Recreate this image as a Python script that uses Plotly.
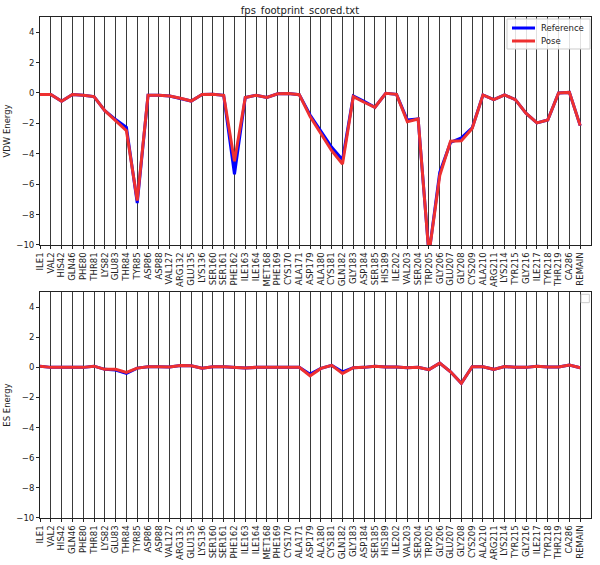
import plotly.graph_objects as go
from plotly.subplots import make_subplots

residues = ["ILE1", "VAL2", "HIS42", "GLN46", "PHE80", "THR81", "LYS82", "GLU83", "THR84", "TYR85",
            "ASP86", "ASP88", "VAL127", "ARG132", "GLU135", "LYS136", "SER160", "SER161", "PHE162", "ILE163",
            "ILE164", "MET168", "PHE169", "CYS170", "ALA171", "ASP179", "ALA180", "CYS181", "GLN182", "GLY183",
            "ASP184", "SER185", "HIS189", "ILE202", "VAL203", "SER204", "TRP205", "GLY206", "GLU207", "GLY208",
            "CYS209", "ALA210", "ARG211", "LYS214", "TYR215", "GLY216", "ILE217", "TYR218", "THR219", "CA286",
            "REMAIN"]

vdw_ref = [-0.1, -0.1, -0.55, -0.1, -0.15, -0.24, -1.16, -1.75, -2.26, -7.24,
           -0.15, -0.15, -0.2, -0.35, -0.53, -0.1, -0.08, -0.15, -5.35, -0.3,
           -0.15, -0.29, -0.05, -0.04, -0.11, -1.45, -2.55, -3.57, -4.39, -0.2,
           -0.55, -0.94, -0.02, -0.09, -1.78, -1.71, -10.6, -5.22, -3.25, -2.96,
           -2.3, -0.13, -0.44, -0.13, -0.44, -1.34, -1.97, -1.78, 0.0, 0.04,
           -2.15]
vdw_pose = [-0.1, -0.1, -0.55, -0.1, -0.15, -0.24, -1.16, -1.82, -2.48, -7.08,
            -0.15, -0.15, -0.2, -0.35, -0.53, -0.1, -0.08, -0.15, -4.5, -0.3,
            -0.15, -0.29, -0.05, -0.04, -0.11, -1.55, -2.7, -3.8, -4.67, -0.24,
            -0.61, -0.94, -0.02, -0.09, -1.89, -1.71, -10.6, -5.44, -3.18, -3.14,
            -2.33, -0.13, -0.44, -0.13, -0.44, -1.34, -1.97, -1.78, 0.0, 0.04,
            -2.15]

es_ref = [0.07, 0.0, 0.0, 0.0, 0.0, 0.08, -0.13, -0.18, -0.4, -0.05,
          0.04, 0.04, 0.02, 0.13, 0.1, -0.05, 0.04, 0.04, 0.0, -0.05,
          0.0, 0.0, 0.0, 0.0, 0.0, -0.45, -0.07, 0.13, -0.3, -0.02,
          0.0, 0.08, 0.02, 0.02, -0.02, 0.0, -0.15, 0.28, -0.29, -1.06,
          0.04, 0.04, -0.13, 0.06, 0.0, 0.0, 0.08, 0.02, 0.02, 0.15,
          -0.02]
es_pose = [0.07, 0.0, 0.0, 0.0, 0.0, 0.08, -0.13, -0.13, -0.33, -0.05,
           0.04, 0.04, 0.02, 0.13, 0.1, -0.05, 0.04, 0.04, 0.0, -0.05,
           0.0, 0.0, 0.0, 0.0, 0.0, -0.56, -0.07, 0.13, -0.4, -0.02,
           0.0, 0.08, 0.02, 0.02, -0.02, 0.0, -0.15, 0.28, -0.29, -1.06,
           0.04, 0.04, -0.13, 0.06, 0.0, 0.0, 0.08, 0.02, 0.02, 0.15,
           -0.02]

series_names = ["Reference", "Pose"]
title_text = "fps_footprint_scored.txt"
xpos = list(range(len(residues)))

BLUE = "#0000ff"
RED = "#ee3030"
FONT = "DejaVu Sans"
TXT = "#222222"

fig = make_subplots(rows=2, cols=1, vertical_spacing=0.094)

fig.add_trace(go.Scatter(x=xpos, y=vdw_ref, mode="lines", name=series_names[0],
                         line=dict(color=BLUE, width=3), showlegend=False), row=1, col=1)
fig.add_trace(go.Scatter(x=xpos, y=vdw_pose, mode="lines", name=series_names[1],
                         line=dict(color=RED, width=3), showlegend=False), row=1, col=1)
fig.add_trace(go.Scatter(x=xpos, y=es_ref, mode="lines", name=series_names[0],
                         line=dict(color=BLUE, width=3), showlegend=False), row=2, col=1)
fig.add_trace(go.Scatter(x=xpos, y=es_pose, mode="lines", name=series_names[1],
                         line=dict(color=RED, width=3), showlegend=False), row=2, col=1)

xaxis_style = dict(
    range=[0, 51], tickmode="array", tickvals=xpos, ticktext=residues,
    tickangle=-90, tickfont=dict(family=FONT, size=8.5, color=TXT),
    showgrid=True, gridcolor="#3a3a3a", gridwidth=1,
    showline=True, linecolor=TXT, linewidth=1, mirror=True,
    ticks="outside", ticklen=3, tickcolor=TXT, zeroline=False, automargin=False,
)
yaxis_style = dict(
    range=[-10, 5], tickmode="array", tickvals=[-10, -8, -6, -4, -2, 0, 2, 4],
    tickfont=dict(family=FONT, size=8.5, color=TXT),
    showgrid=False, showline=True, linecolor=TXT, linewidth=1, mirror=True,
    ticks="outside", ticklen=3, tickcolor=TXT, zeroline=False, automargin=False,
)

fig.update_xaxes(**xaxis_style)
fig.update_yaxes(**yaxis_style)
fig.update_yaxes(title=dict(text="VDW Energy", font=dict(family=FONT, size=8.5, color=TXT), standoff=4), row=1, col=1)
fig.update_yaxes(title=dict(text="ES Energy", font=dict(family=FONT, size=8.5, color=TXT), standoff=4), row=2, col=1)

fig.update_layout(
    width=600, height=565,
    margin=dict(l=40, r=9, t=17, b=47),
    paper_bgcolor="white", plot_bgcolor="white",
    title=dict(text=title_text, x=0.5, xanchor="center", y=0.982, yanchor="middle",
               font=dict(family=FONT, size=10, color=TXT)),
    showlegend=False,
)
fig.update_layout(yaxis=dict(domain=[0.545, 1.0]), yaxis2=dict(domain=[0.0, 0.451]))

# legend of the upper panel (drawn in axis-domain coordinates)
# top axes spans x 40..591 px (551 px), y 17..245 px (228 px)
def dx(px):
    return (px - 40) / 551.0

def dy(py):
    return (245 - py) / 228.0

fig.add_shape(type="rect", xref="x domain", yref="y domain",
              x0=dx(507), x1=dx(590), y0=dy(49), y1=dy(19),
              line=dict(color="#cccccc", width=1), fillcolor="rgba(255,255,255,0.85)")
for name, color, py in [(series_names[0], BLUE, 28), (series_names[1], RED, 41)]:
    fig.add_shape(type="line", xref="x domain", yref="y domain",
                  x0=dx(512), x1=dx(535), y0=dy(py), y1=dy(py),
                  line=dict(color=color, width=3))
    fig.add_annotation(xref="x domain", yref="y domain", x=dx(539), y=dy(py),
                       text=name, showarrow=False, xanchor="left", yanchor="middle",
                       font=dict(family=FONT, size=8.5, color=TXT))

# empty legend box of the lower panel
fig.add_shape(type="rect", xref="x2 domain", yref="y2 domain",
              x0=0.982, x1=0.997, y0=0.953, y1=0.99,
              line=dict(color="#cccccc", width=1), fillcolor="white")

fig.write_html("out.html")
